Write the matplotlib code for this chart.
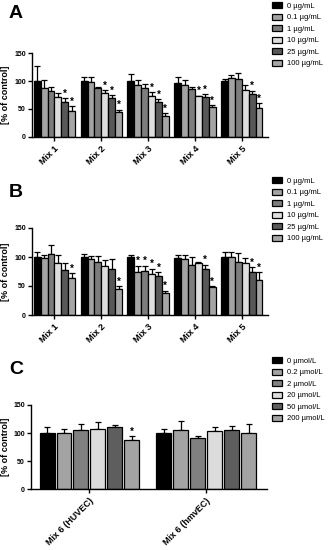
import numpy as np
import matplotlib.pyplot as plt

plt.rcParams['font.family'] = ['Liberation Sans', 'DejaVu Sans']

# ---- data ----
MIX_LABELS = ['Mix 1', 'Mix 2', 'Mix 3', 'Mix 4', 'Mix 5']
UG_LABELS = ['0 µg/mL', '0.1 µg/mL', '1 µg/mL', '10 µg/mL', '25 µg/mL', '100 µg/mL']
UMOL_LABELS = ['0 µmol/L', '0.2 µmol/L', '2 µmol/L', '20 µmol/L', '50 µmol/L', '200 µmol/L']
CELL_LABELS = ['Mix 6 (HUVEC)', 'Mix 6 (hmvEC)']

# rows = mixes, cols = concentrations
a_mean = [[100, 88, 82, 71, 62, 47],
          [100, 99, 87, 78, 69, 45],
          [100, 92, 88, 74, 62, 38],
          [96, 93, 86, 73, 72, 53],
          [100, 106, 103, 84, 77, 52]]
a_top = [[127, 101, 89, 79, 69, 55],
         [107, 107, 90, 84, 75, 49],
         [112, 101, 95, 80, 68, 42],
         [108, 102, 90, 74, 76, 57],
         [104, 110, 114, 92, 83, 60]]
a_star = [[4, 5], [3, 4, 5], [3, 4, 5], [3, 4, 5], [4, 5]]

b_mean = [[100, 98, 105, 89, 77, 63],
          [100, 96, 91, 85, 80, 45],
          [100, 74, 76, 70, 67, 38],
          [98, 96, 87, 89, 79, 48],
          [100, 100, 92, 90, 74, 61]]
b_top = [[108, 103, 120, 104, 89, 72],
         [105, 101, 102, 94, 96, 50],
         [104, 85, 85, 80, 74, 42],
         [104, 103, 100, 91, 87, 50],
         [108, 108, 107, 98, 82, 74]]
b_star = [[5], [5], [1, 2, 3, 4, 5], [4, 5], [4, 5]]

c_mean = [[100, 100, 105, 108, 111, 87],
          [100, 106, 91, 104, 105, 100]]
c_top = [[110, 108, 116, 120, 114, 94],
         [107, 121, 95, 111, 113, 116]]
c_star = [[5], []]

BAR_COLORS = ['#000000', '#a3a3a3', '#7d7d7d', '#dedede', '#585858', '#a6a6a6']
C_COLORS = ['#000000', '#a3a3a3', '#808080', '#dcdcdc', '#5e5e5e', '#a3a3a3']

fig = plt.figure(figsize=(3.29, 5.5), dpi=100)
W, H = 329.0, 550.0


def axes_px(left, right, top, bottom):
    return fig.add_axes([left / W, 1 - bottom / H, (right - left) / W, (bottom - top) / H])


def draw_panel(ax, groups, means, tops, stars, colors, labels, step, width, xlim,
               legend_top, letter, letter_y):
    means = np.array(means, dtype=float)
    tops = np.array(tops, dtype=float)
    n = means.shape[1]
    x0 = np.arange(len(groups))
    for j in range(n):
        xs = x0 + (j - (n - 1) / 2) * step
        ax.bar(xs, means[:, j], width=width, color=colors[j], edgecolor='black',
               linewidth=0.9, label=labels[j], zorder=2)
        err = tops[:, j] - means[:, j]
        ax.errorbar(xs, means[:, j], yerr=[np.zeros_like(err), err], fmt='none',
                    ecolor='black', elinewidth=0.9, capsize=2.0, capthick=0.9,
                    zorder=1, clip_on=False)
    for g, idx in enumerate(stars):
        for j in idx:
            xs = x0[g] + (j - (n - 1) / 2) * step
            ax.text(xs, tops[g, j] - 1, '*', ha='center', va='bottom',
                    fontsize=7, fontweight='bold')
    ax.set_xlim(*xlim)
    ax.set_ylim(0, 150)
    ax.set_yticks([0, 50, 100, 150])
    ax.set_xticks(x0)
    ax.set_xticklabels(groups, rotation=45, ha='right', rotation_mode='anchor',
                       fontsize=6.5, fontweight='bold')
    for t in ax.get_yticklabels():
        t.set_fontweight('bold')
    ax.tick_params(axis='y', labelsize=5, length=3, width=1, pad=1.5)
    ax.tick_params(axis='x', length=3, width=1, pad=2)
    ax.spines['top'].set_visible(False)
    ax.spines['right'].set_visible(False)
    ax.spines['left'].set_linewidth(1)
    ax.spines['bottom'].set_linewidth(1)
    ax.set_ylabel('[% of control]', fontsize=6.5, fontweight='bold')
    bb = ax.get_position()
    ax.yaxis.set_label_coords((10.5 / W - bb.x0) / bb.width, 0.5)
    ax.legend(loc='upper left', bbox_to_anchor=(272 / W, 1 - legend_top / H),
              bbox_transform=fig.transFigure, frameon=False, fontsize=5.5,
              handlelength=1.3, handleheight=0.85, handletextpad=0.6,
              labelspacing=0.5, borderpad=0, borderaxespad=0)
    fig.text(9 / W, 1 - letter_y / H, letter, fontsize=14, fontweight='bold',
             ha='left', va='center')


ax_a = axes_px(32, 268, 53, 137)
draw_panel(ax_a, MIX_LABELS, a_mean, a_top, a_star, BAR_COLORS, UG_LABELS,
           0.147, 0.147, (-0.48, 4.56), 2, 'A', 14)

ax_b = axes_px(32, 268, 228, 315)
draw_panel(ax_b, MIX_LABELS, b_mean, b_top, b_star, BAR_COLORS, UG_LABELS,
           0.147, 0.147, (-0.48, 4.56), 177, 'B', 193)

ax_c = axes_px(31, 267, 405, 489)
draw_panel(ax_c, CELL_LABELS, c_mean, c_top, c_star, C_COLORS, UMOL_LABELS,
           0.145, 0.128, (-0.5, 1.52), 357, 'C', 370)

fig.savefig('out.png', dpi=100)
